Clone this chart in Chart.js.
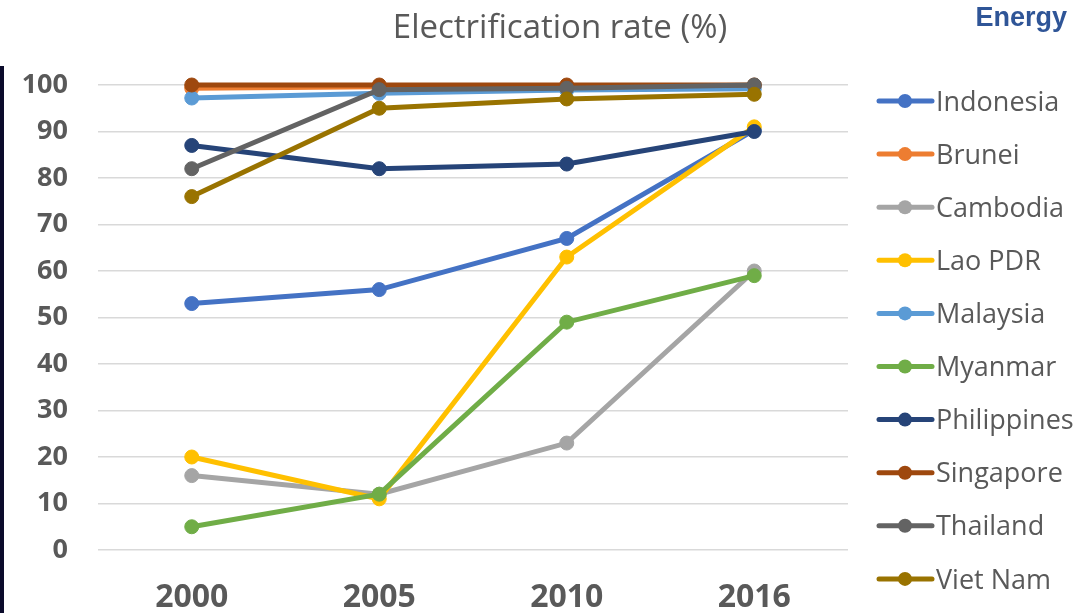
<!DOCTYPE html>
<html>
<head>
<meta charset="utf-8">
<script src="https://cdn.jsdelivr.net/npm/chart.js@4/dist/chart.umd.min.js"></script>
<style>
  html, body { margin: 0; padding: 0; background: #ffffff; }
  #wrap { width: 1081px; height: 613px; position: relative; }
</style>
</head>
<body>
<div id="wrap"><canvas id="c" width="1081" height="613"></canvas></div>
<script>
// Survey years on the x axis
const years = ['2000', '2005', '2010', '2016'];

// Electrification rate (%) per country
const indonesia   = [53, 56, 67, 90.3];
const brunei      = [99.3, 99.6, 99.7, 99.9];
const cambodia    = [16, 12, 23, 60];
const laoPDR      = [20, 11, 63, 91];
const malaysia    = [97.2, 98.2, 98.9, 99.2];
const myanmar     = [5, 12, 49, 59];
const philippines = [87, 82, 83, 90];
const singapore   = [100, 100, 100, 100];
const thailand    = [82, 99, 99.3, 100];
const vietNam     = [76, 95, 97, 98];

const seriesNames = ['Indonesia', 'Brunei', 'Cambodia', 'Lao PDR', 'Malaysia',
                     'Myanmar', 'Philippines', 'Singapore', 'Thailand', 'Viet Nam'];
const seriesValues = [indonesia, brunei, cambodia, laoPDR, malaysia,
                      myanmar, philippines, singapore, thailand, vietNam];
const seriesColors = ['#4472C4', '#ED7D31', '#A5A5A5', '#FFC000', '#5B9BD5',
                      '#70AD47', '#264478', '#9E480E', '#636363', '#997300'];

const TEXT_GREY = '#595959';
const FONT = '"Open Sans", Lato, sans-serif';

const datasets = seriesNames.map((name, i) => ({
  label: name,
  data: seriesValues[i],
  borderColor: seriesColors[i],
  backgroundColor: seriesColors[i],
  pointBackgroundColor: seriesColors[i],
  pointBorderColor: seriesColors[i],
  borderWidth: 5,
  pointRadius: 7,
  pointBorderWidth: 1,
  tension: 0,
  clip: false,
  order: seriesNames.length - i   // later series painted on top
}));

// Title, corner caption, left rule and the right-hand legend
const decorations = {
  id: 'decorations',
  afterDraw(chart) {
    const ctx = chart.ctx;
    ctx.save();
    // dark rule down the left edge
    ctx.fillStyle = '#0b0b2b';
    ctx.fillRect(0, 66, 4, 547);

    // chart title
    ctx.fillStyle = TEXT_GREY;
    ctx.font = '33px ' + FONT;
    ctx.textAlign = 'center';
    ctx.textBaseline = 'alphabetic';
    ctx.fillText('Electrification rate (%)', 560, 38);

    // corner caption
    ctx.fillStyle = '#2F5597';
    ctx.font = 'bold 27px "Liberation Sans", Arial, sans-serif';
    ctx.textAlign = 'right';
    ctx.fillText('Energy', 1067, 26);

    // legend: line sample with marker, then the series name
    const top = 101, step = 53.1;
    chart.data.datasets.forEach((ds, i) => {
      const y = top + i * step;
      ctx.strokeStyle = ds.borderColor;
      ctx.lineWidth = 5;
      ctx.lineCap = 'round';
      ctx.beginPath();
      ctx.moveTo(879, y);
      ctx.lineTo(932, y);
      ctx.stroke();
      ctx.fillStyle = ds.borderColor;
      ctx.beginPath();
      ctx.arc(905, y, 7, 0, Math.PI * 2);
      ctx.fill();
      ctx.fillStyle = TEXT_GREY;
      ctx.font = '27px ' + FONT;
      ctx.textAlign = 'left';
      ctx.textBaseline = 'middle';
      ctx.fillText(ds.label, 936, y + 2);
    });
    ctx.restore();
  }
};

new Chart(document.getElementById('c'), {
  type: 'line',
  data: { labels: years, datasets },
  options: {
    responsive: false,
    animation: false,
    layout: { padding: { left: 0, right: 233, top: 85, bottom: 0 } },
    plugins: {
      legend: { display: false },
      title: { display: false },
      tooltip: { enabled: false }
    },
    scales: {
      x: {
        offset: true,
        grid: { display: false, drawTicks: false },
        border: { display: false },
        ticks: {
          color: TEXT_GREY,
          padding: 29,
          font: { family: FONT, size: 32, weight: 'bold' }
        },
        afterFit(scale) { scale.height = 63; }
      },
      y: {
        min: 0,
        max: 100,
        grid: { color: '#d9d9d9', lineWidth: 1.5, drawTicks: false },
        border: { display: false },
        ticks: {
          stepSize: 10,
          color: TEXT_GREY,
          padding: 30,
          font: { family: FONT, size: 27, weight: 'bold' }
        },
        afterFit(scale) { scale.width = 98; }
      }
    }
  },
  plugins: [decorations]
});
</script>
</body>
</html>
